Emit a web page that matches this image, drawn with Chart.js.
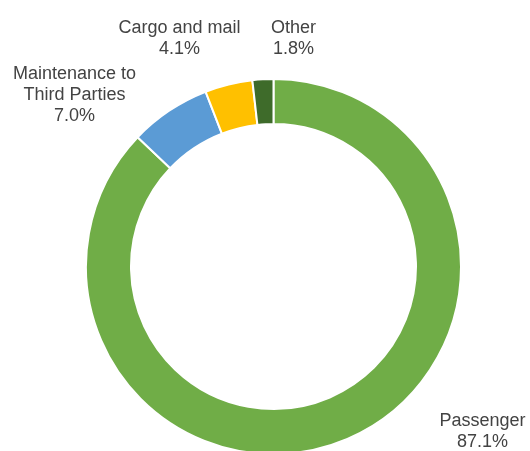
<!DOCTYPE html>
<html>
<head>
<meta charset="utf-8">
<script src="https://cdn.jsdelivr.net/npm/chart.js@4/dist/chart.umd.min.js"></script>
<style>
    html, body { margin: 0; padding: 0; background: #ffffff; overflow: hidden; }
    /* slightly taller than the window: the ring's bottom edge is cropped in the original */
    #wrap { width: 530px; height: 455px; position: relative; }
</style>
</head>
<body>
<div id="wrap"><canvas id="revenueChart"></canvas></div>
<script>
// Revenue split (clockwise from 12 o'clock)
const categories = ['Passenger', 'Maintenance to\nThird Parties', 'Cargo and mail', 'Other'];
const shares = [87.1, 7.0, 4.1, 1.8];
const colors = ['#70ad47', '#5b9bd5', '#ffc000', '#3e6b2a'];

// label placement, relative to the doughnut centre (text layout only)
const labelOffsets = [
    { dx: 209, dy: 165 },
    { dx: -199, dy: -171 },
    { dx: -94, dy: -228 },
    { dx: 20, dy: -228 }
];

const outsideLabels = {
    id: 'outsideLabels',
    afterDraw(chart) {
        const ctx = chart.ctx;
        const arc = chart.getDatasetMeta(0).data[0];
        if (!arc) return;
        const cx = arc.x, cy = arc.y;
        const lineH = 21;
        ctx.save();
        ctx.fillStyle = '#434343';
        ctx.font = '18px "Liberation Sans", Arial, sans-serif';
        ctx.textAlign = 'center';
        ctx.textBaseline = 'middle';
        categories.forEach((cat, i) => {
            const lines = cat.split('\n').concat([shares[i].toFixed(1) + '%']);
            const off = labelOffsets[i];
            const top = cy + off.dy - (lines.length - 1) * lineH / 2;
            lines.forEach((txt, j) => {
                ctx.fillText(txt, cx + off.dx, top + j * lineH);
            });
        });
        ctx.restore();
    }
};

new Chart(document.getElementById('revenueChart'), {
    type: 'doughnut',
    data: {
        labels: categories,
        datasets: [{
            data: shares,
            backgroundColor: colors,
            borderColor: '#ffffff',
            borderWidth: 2,
            hoverOffset: 0
        }]
    },
    options: {
        responsive: true,
        maintainAspectRatio: false,
        animation: false,
        rotation: 0,
        cutout: '76%',
        events: [],
        layout: { padding: { left: 85, right: 68, top: 78, bottom: 0 } },
        plugins: {
            legend: { display: false },
            tooltip: { enabled: false }
        }
    },
    plugins: [outsideLabels]
});
</script>
</body>
</html>
